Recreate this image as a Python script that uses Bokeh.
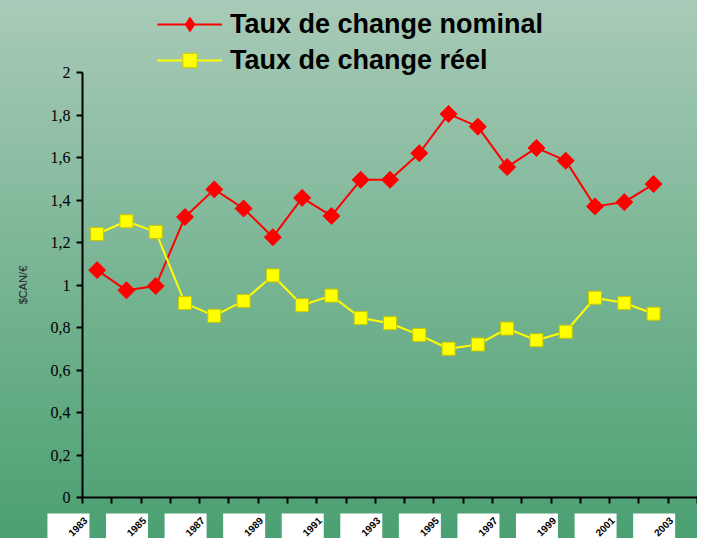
import math
from bokeh.plotting import figure
from bokeh.models import (Range1d, FixedTicker, Legend, LegendItem, InlineStyleSheet)
from bokeh.core.properties import value
from bokeh.embed import file_html
from bokeh.resources import INLINE

# ---------------- data ----------------
years = ["1983", "1984", "1985", "1986", "1987", "1988", "1989", "1990", "1991", "1992",
         "1993", "1994", "1995", "1996", "1997", "1998", "1999", "2000", "2001", "2002", "2003"]
nominal = [1.07, 0.975, 0.995, 1.32, 1.45, 1.36, 1.225, 1.41, 1.325, 1.495,
           1.495, 1.62, 1.805, 1.745, 1.555, 1.645, 1.585, 1.37, 1.39, 1.475]
real = [1.24, 1.30, 1.25, 0.915, 0.855, 0.925, 1.045, 0.905, 0.95, 0.845,
        0.82, 0.765, 0.70, 0.72, 0.795, 0.74, 0.78, 0.94, 0.915, 0.865]
y_ticks = [0, 0.2, 0.4, 0.6, 0.8, 1, 1.2, 1.4, 1.6, 1.8, 2]
y_tick_labels = ["0", "0,2", "0,4", "0,6", "0,8", "1", "1,2", "1,4", "1,6", "1,8", "2"]
x_labels = years[::2]
series_names = ["Taux de change nominal", "Taux de change réel"]
y_title = "$CAN/€"

# ---------------- layout constants ----------------
W, H = 697, 538
AXIS_X_PX = 82                  # pixel of the y axis (x = 0)
Y0_PX, Y2_PX = 497, 72          # pixel (from figure top) of value 0 and 2
PPU = (Y0_PX - Y2_PX) / 2.0
y_end = 2 + Y2_PX / PPU
y_start = -(H - Y0_PX) / PPU
n_cat = len(years)
ppx = (W - AXIS_X_PX) / n_cat
x_start = -AXIS_X_PX / ppx

css = InlineStyleSheet(css=":host { background: linear-gradient(to bottom, #a9cab8 0%, #79b594 50%, #4ba072 100%); }")

p = figure(width=W, height=H, x_range=Range1d(x_start, n_cat), y_range=Range1d(y_start, y_end),
           output_backend="svg", toolbar_location=None,
           min_border_left=0, min_border_right=0,
           min_border_top=0, min_border_bottom=0,
           background_fill_color=None, border_fill_color=None,
           outline_line_color=None, stylesheets=[css])
p.xgrid.visible = False
p.ygrid.visible = False

# y axis at x=0
ya = p.yaxis[0]
ya.fixed_location = 0
ya.bounds = (0, 2)
ya.ticker = FixedTicker(ticks=y_ticks)
ya.major_label_overrides = dict(zip(y_ticks, y_tick_labels))
ya.axis_line_width = 2
ya.major_tick_line_width = 2
ya.major_tick_out = 6
ya.major_tick_in = 0
ya.minor_tick_out = 0
ya.minor_tick_in = 0
ya.major_label_text_font = "Times New Roman"
ya.major_label_text_font_size = "16px"
ya.major_label_text_color = "black"
ya.major_label_standoff = 6

# y title, vertical, left of the tick labels
p.text(x=[-(AXIS_X_PX - 22) / ppx], y=[1.0], text=[y_title], angle=math.pi / 2,
       text_align="center", text_baseline="middle",
       text_font=value("Liberation Sans"), text_font_size="11px", text_color="#222222")

# x axis at y=0
xa = p.xaxis[0]
xa.fixed_location = 0
xa.bounds = (0, n_cat)
xa.ticker = FixedTicker(ticks=list(range(n_cat + 1)))
xa.axis_line_width = 2
xa.major_tick_line_width = 2
xa.major_tick_out = 6
xa.major_tick_in = 0
xa.minor_tick_out = 0
xa.minor_tick_in = 0
xa.major_label_text_font_size = "0px"
xa.major_label_text_alpha = 0

# label boxes (white) with rotated years
LABEL_SHIFT = -0.98
BOX_HALF_PX = 21
BOX_TOP = -16 / PPU
lab_idx = list(range(0, n_cat, 2))
box_cx = [k + 0.5 + LABEL_SHIFT for k in lab_idx]
hw = BOX_HALF_PX / ppx
p.quad(left=[c - hw for c in box_cx], right=[c + hw for c in box_cx],
       top=[BOX_TOP] * len(box_cx), bottom=[y_start - 0.2] * len(box_cx),
       fill_color="white", line_color=None)
p.text(x=box_cx, y=[BOX_TOP] * len(box_cx), text=x_labels, angle=math.pi / 4,
       text_align="right", text_baseline="middle", x_offset=17, y_offset=5,
       text_font=value("Liberation Sans"), text_font_size="10px",
       text_font_style="bold", text_color="black")

# series
xs = [k + 0.5 for k in range(len(nominal))]
r1 = p.line(xs, nominal, line_color="#ff0000", line_width=2)
s1 = p.scatter(xs, nominal, marker="square", angle=math.pi / 4, size=12,
               fill_color="#ff0000", line_color="#ff0000")
r2 = p.line(xs, real, line_color="#ffff00", line_width=2)
s2 = p.scatter(xs, real, marker="square", size=13, fill_color="#ffff00",
               line_color="#c8c800", line_width=1)
# legend proxy glyph (diamond), off-screen point
s1_leg = p.scatter(x=[float("nan")], y=[float("nan")], marker="diamond", size=18,
                   fill_color="#ff0000", line_color="#ff0000")

legend = Legend(items=[LegendItem(label=series_names[0], renderers=[r1, s1_leg]),
                       LegendItem(label=series_names[1], renderers=[r2, s2])],
                location=(157, H - 78), glyph_width=65, glyph_height=36,
                label_height=36, spacing=0, padding=0, margin=0, label_standoff=8,
                label_text_font="Liberation Sans", label_text_font_style="bold",
                label_text_font_size="27px", label_text_color="black",
                border_line_color=None, background_fill_alpha=0)
p.add_layout(legend)

open("out.html", "w").write(file_html(p, INLINE))
